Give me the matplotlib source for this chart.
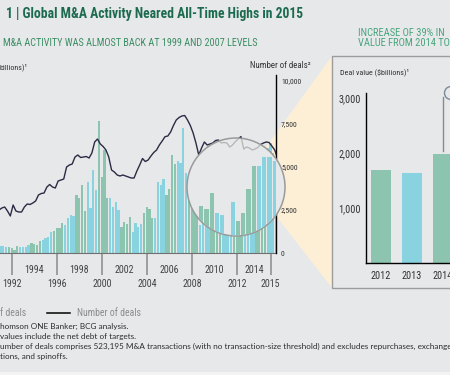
import numpy as np
import matplotlib
matplotlib.use("Agg")
import matplotlib.pyplot as plt
from matplotlib.patches import Circle, Polygon, Rectangle
from matplotlib.lines import Line2D
from matplotlib.transforms import IdentityTransform
from matplotlib import font_manager as fm

# ---------------- data ----------------
quarter_start_year = 1991
# quarterly deal value ($billions), 1991 Q1 .. 2015 Q4
deal_value_bn = [
    41, 41, 41, 35,     35, 29, 17, 41,     35, 35, 35, 47,     58, 52, 47, 70,
    76, 87, 93, 122,    128, 145, 145, 174, 163, 203, 221, 215, 337, 320, 395, 244,
    413, 262, 483, 366, 767, 442, 599, 320, 320, 267, 297, 250, 151, 180, 169, 209,
    122, 174, 151, 169, 233, 267, 256, 203, 203, 413, 395, 430, 337, 372, 570, 517,
    535, 523, 727, 465, 407, 349, 279, 221, 163, 174, 198, 244, 262, 326, 314, 366,
    302, 297, 203, 337, 279, 302, 378, 448, 448, 477, 477, 465, 465, 512, 535, 581,
    610, 640, 581, 552,
]
# quarterly number of deals, 1991 Q1 .. 2015 Q4
deal_count = [
    2500, 2616, 2674, 2442, 2151, 2791, 2442, 2384, 2384, 2674, 2849, 2820,
    2907, 3023, 3372, 3459, 3488, 3837, 3983, 3837, 3779, 4186, 4244, 4302,
    5000, 5116, 5174, 5581, 5698, 5552, 5581, 5610, 5523, 5814, 6454, 6628,
    6337, 6192, 5988, 5581, 4826, 4709, 4535, 4477, 4535, 4477, 4419, 4360,
    4360, 4767, 5116, 5494, 5320, 5407, 5640, 5843, 5988, 6279, 6512, 6762,
    6802, 7035, 7413, 7733, 7878, 7965, 7994, 7733, 7413, 6977, 6395, 5698,
    6105, 6454, 6279, 6337, 6395, 6541, 6570, 6395, 6424, 6395, 6163, 6279,
    6471, 6628, 6770, 6047, 6163, 6105, 5988, 6047, 6134, 6308, 6395, 6454,
    6424, 6221, 5990, 5520,
]
axis_years_major = [1992, 1996, 2000, 2004, 2008, 2012, 2015]
axis_years_minor = [1994, 1998, 2002, 2006, 2010, 2014]
right_ticks = [0, 2500, 5000, 7500, 10000]

inset_years = ["2012", "2013", "2014", "2015"]
inset_values = [1700, 1640, 1980, 2750]
inset_ticks = [1000, 2000, 3000]

# ---------------- style ----------------
W, H = 450, 375
BG = "#e7e8ea"
GREEN = "#8dc4af"
BLUE = "#89d2e0"
LINE = "#2a2c44"
TITLE_C = "#1c6b4e"
SUB_C = "#3b8d63"
SUB2_C = "#4aa57d"
BEIGE = "#fcefd6"

avail = {f.name for f in fm.fontManager.ttflist}
NARROW = "Lato"
for cand in ["Liberation Sans Narrow", "Roboto Condensed", "Open Sans Condensed"]:
    if cand in avail:
        NARROW = cand
        break
REG = "Lato" if "Lato" in avail else "DejaVu Sans"
plt.rcParams["font.family"] = [NARROW, "DejaVu Sans"]


def pxf(x, y):
    """pixel (from top-left) -> figure fraction"""
    return (x / W, 1 - y / H)


fig = plt.figure(figsize=(W / 100, H / 100), dpi=100)
fig.patch.set_facecolor(BG)

# time mapping of main chart
X2000, PPY = 97.5, 11.25
AX_L, AX_R, AX_B, AX_T = 0, 276, 253, 75
t_lo = 2000 + (AX_L - X2000) / PPY
t_hi = 2000 + (AX_R - X2000) / PPY
rect = [AX_L / W, 1 - AX_B / H, (AX_R - AX_L) / W, (AX_B - AX_T) / H]
VAL_MAX = (AX_B - AX_T) * 5.814
CNT_MAX = VAL_MAX * 10
TICK_SHIFT = 0.4   # year separators sit a little after the 1 Jan position

n = len(deal_value_bn)
t_start = quarter_start_year + np.arange(n) / 4.0
t_mid = t_start + 0.125
t_end = t_start + 0.25
qyear = quarter_start_year + np.arange(n) // 4
bar_colors = [GREEN if y % 2 == 0 else BLUE for y in qyear]
BW = 0.25 * 0.82

# beige wedge (behind everything)
wedge = Polygon([pxf(332, 56), pxf(332, 288), pxf(245, 176)], closed=True,
                transform=fig.transFigure, facecolor=BEIGE, edgecolor="none", zorder=-2)
fig.add_artist(wedge)
# inset panel
panel = Rectangle(pxf(332, 288), (470 - 332) / W, (288 - 56) / H, transform=fig.transFigure,
                  facecolor=BG, edgecolor="#9c9c9c", linewidth=1.0, zorder=-1)
fig.add_artist(panel)
# light strip at the very bottom
fig.add_artist(Rectangle(pxf(0, 375), 1, 3 / H, transform=fig.transFigure,
                         facecolor="#f3f3f4", edgecolor="none", zorder=-1))

# ---- bars axis
ax_b = fig.add_axes(rect)
ax_b.set_facecolor("none")
ax_b.bar(t_mid, deal_value_bn, width=BW, color=bar_colors, linewidth=0)
ax_b.set_xlim(t_lo, t_hi)
ax_b.set_ylim(0, VAL_MAX)
for s in ["top", "right", "left"]:
    ax_b.spines[s].set_visible(False)
ax_b.spines["bottom"].set_color("#707070")
ax_b.spines["bottom"].set_linewidth(0.8)
ax_b.set_yticks([])
major_pos = np.array(axis_years_major) + TICK_SHIFT
minor_pos = (major_pos[:-1] + major_pos[1:]) / 2.0
ax_b.set_xticks(major_pos, [str(y) for y in axis_years_major])
ax_b.set_xticks(minor_pos, [str(y) for y in axis_years_minor], minor=True)
ax_b.tick_params(axis="x", which="major", length=15.5, width=1.1, color="#8a8a8a",
                 pad=3.0, labelsize=7.2, labelcolor="#444444")
ax_b.tick_params(axis="x", which="minor", length=0, pad=8.3, labelsize=7.2,
                 labelcolor="#444444")

# ---- line axis
ax_l = fig.add_axes(rect, sharex=ax_b)
ax_l.set_facecolor("none")
ax_l.plot(t_end, deal_count, color=LINE, linewidth=1.0, solid_joinstyle="round")
ax_l.set_ylim(0, CNT_MAX)
for s in ["top", "left", "bottom"]:
    ax_l.spines[s].set_visible(False)
ax_l.spines["right"].set_color("black")
ax_l.spines["right"].set_linewidth(1.0)
ax_l.yaxis.tick_right()
ax_l.set_yticks(right_ticks, [f"{v:,}" for v in right_ticks])
ax_l.tick_params(axis="y", length=0, pad=3.6, labelsize=5.6, labelcolor="#333333")
ax_l.tick_params(axis="x", which="both", bottom=False, labelbottom=False)

# ---- magnifier lens
ax_z = fig.add_axes(rect, sharex=ax_b)
ax_z.set_facecolor("none")
ax_z.set_ylim(0, VAL_MAX)
ax_z.axis("off")
LCX, LCY, LR, MAG = 236.0, 187.0, 49.0, 1.87
LENS_T = 2012.03          # period shown at the centre of the lens
lens = Circle((LCX, H - LCY), LR, transform=IdentityTransform(), facecolor=BG,
              edgecolor="#9a9a9a", linewidth=1.1, zorder=1)
ax_z.add_patch(lens)
lens.set_clip_on(False)
t_circle = 2000 + (LCX - X2000) / PPY
vc = (AX_B - LCY) * 5.814
zx = t_circle + (t_mid - LENS_T) * MAG
zb = vc + (0 - vc) * MAG
zbars = ax_z.bar(zx, np.array(deal_value_bn) * MAG, bottom=zb, width=BW * MAG,
                 color=bar_colors, linewidth=0, zorder=2)
clip_c = Circle((LCX, H - LCY), LR - 0.6, transform=IdentityTransform())
for p in zbars:
    p.set_clip_path(clip_c)
gl = Line2D(t_end, deal_count, color="#b4b4b4", linewidth=0.9, zorder=3,
            transform=ax_l.transData)
gl.set_clip_path(clip_c)
ax_z.add_line(gl)
gl.set_clip_path(clip_c)

# ---- inset
ax_i = fig.add_axes([366 / W, 1 - 263 / H, 114 / W, 170 / H])
ax_i.set_facecolor("none")
ipos = np.arange(len(inset_years))
icol = [GREEN if int(y) % 2 == 0 else BLUE for y in inset_years]
ax_i.bar(ipos, inset_values, width=0.645, color=icol, linewidth=0)
ax_i.set_xlim(-0.484, -0.484 + 114 / 31)
ax_i.set_ylim(0, 3091)
for s in ["top", "right"]:
    ax_i.spines[s].set_visible(False)
for s in ["left", "bottom"]:
    ax_i.spines[s].set_color("black")
    ax_i.spines[s].set_linewidth(1.0)
ax_i.set_yticks(inset_ticks, [f"{v:,}" for v in inset_ticks])
ax_i.set_xticks(ipos[:3], inset_years[:3])
ax_i.tick_params(axis="y", length=0, pad=4.0, labelsize=7.4, labelcolor="#333333")
ax_i.tick_params(axis="x", length=0, pad=6.0, labelsize=7.4, labelcolor="#333333")
ax_i.plot([2, 2], [inset_values[2] + 60, 3020], color="#8a8a8a", linewidth=1.0,
          clip_on=False)
ann = Circle((451, H - 93), 6.5, transform=IdentityTransform(), facecolor=BG,
             edgecolor="#7a8a9a", linewidth=1.0, zorder=5)
fig.add_artist(ann)

# ---------------- texts ----------------
def ftext(x, y, s, **kw):
    fx, fy = pxf(x, y)
    return fig.text(fx, fy, s, **kw)

ftext(6, 14, "1 | Global M&A Activity Neared All-Time Highs in 2015", fontsize=9.8,
      fontweight="bold", color=TITLE_C, va="center", ha="left")
ftext(3, 43, "M&A ACTIVITY WAS ALMOST BACK AT 1999 AND 2007 LEVELS", fontsize=7.3,
      color=SUB_C, va="center", ha="left")
ftext(358, 33, "INCREASE OF 39% IN", fontsize=7.6, color=SUB2_C, va="center", ha="left")
ftext(358, 43.5, "VALUE FROM 2014 TO", fontsize=7.6, color=SUB2_C, va="center", ha="left")
ftext(0, 67, "billions)\u00b9", fontsize=5.8, color="#333333", va="center", ha="left")
ftext(250, 66, "Number of deals\u00b2", fontsize=6.4, color="#333333", va="center", ha="left")
ftext(340, 72, "Deal value ($billions)\u00b9", fontsize=5.8, color="#333333", va="center",
      ha="left")

# legend
ftext(0, 313, "f deals", fontsize=7.0, color="#8c8c8c", va="center", ha="left")
fig.add_artist(Line2D([47 / W, 70 / W], [1 - 313 / H, 1 - 313 / H], color="black",
                      linewidth=1.1, transform=fig.transFigure))
ftext(77, 313, "Number of deals", fontsize=7.0, color="#8c8c8c", va="center", ha="left")

# footnotes
notes = [
    "homson ONE Banker; BCG analysis.",
    "values include the net debt of targets.",
    "umber of deals comprises 523,195 M&A transactions (with no transaction-size threshold) and excludes repurchases, exchange",
    "tions, and spinoffs.",
]
for i, s in enumerate(notes):
    ftext(0, 326 + 10.2 * i, s, fontsize=5.85, color="#2c2c2c", va="center", ha="left",
          family=[REG, "DejaVu Sans"])

fig.savefig("out.png", dpi=100, facecolor=BG)
